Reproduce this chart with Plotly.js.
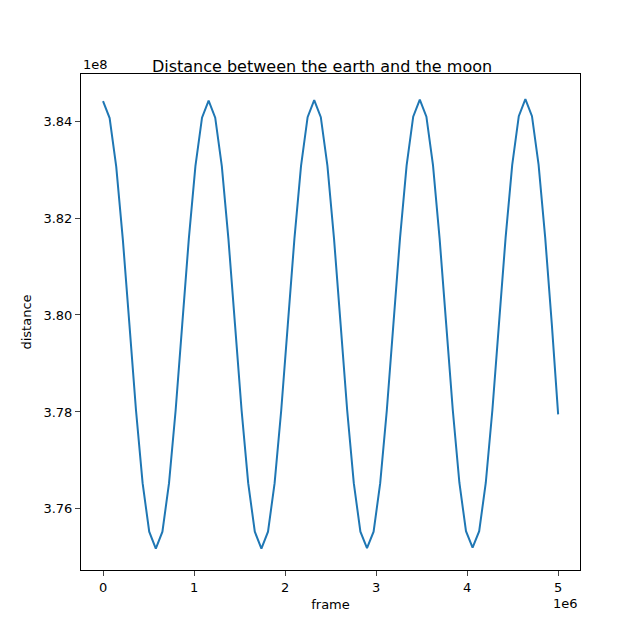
<!DOCTYPE html>
<html><head><meta charset="utf-8">
<script src="https://cdn.plot.ly/plotly-3.0.1.min.js"></script>
<style>body{margin:0}</style></head><body>
<div id="c" style="width:644px;height:641px"></div>
<script>
// frame in units of 1e6
var frame = [0,0.0725,0.145,0.2175,0.29,0.3625,0.435,0.5075,0.58,0.6525,0.725,0.7975,0.87,0.9425,1.015,1.0875,
1.16,1.2325,1.305,1.3775,1.45,1.5225,1.595,1.6675,1.74,1.8125,1.885,1.9575,2.03,2.1025,2.175,2.2475,
2.32,2.3925,2.465,2.5375,2.61,2.6825,2.755,2.8275,2.9,2.9725,3.045,3.1175,3.19,3.2625,3.335,3.4075,
3.48,3.5525,3.625,3.6975,3.77,3.8425,3.915,3.9875,4.06,4.1325,4.205,4.2775,4.35,4.4225,4.495,4.5675,
4.64,4.7125,4.785,4.8575,4.93,5.0];
// distance in units of 1e8
var distance = [3.8441,3.8406,3.8306,3.8156,3.7980,3.7803,3.7653,3.7553,3.7518,3.7553,3.7653,3.7803,3.7980,3.8157,3.8307,3.8407,
3.8442,3.8407,3.8307,3.8157,3.7980,3.7803,3.7653,3.7553,3.7518,3.7553,3.7653,3.7803,3.7980,3.8157,3.8307,3.8408,
3.8443,3.8408,3.8308,3.8158,3.7981,3.7803,3.7653,3.7553,3.7519,3.7553,3.7653,3.7803,3.7981,3.8158,3.8308,3.8409,
3.8444,3.8409,3.8309,3.8158,3.7981,3.7804,3.7654,3.7554,3.7520,3.7554,3.7654,3.7804,3.7982,3.8159,3.8309,3.8410,
3.8445,3.8410,3.8310,3.8160,3.7982,3.7795];
var f = {family:"DejaVu Sans", size:13, color:"#000"};
Plotly.newPlot("c",[{x:frame,y:distance,type:"scatter",mode:"lines",line:{color:"#1f77b4",width:2,shape:"linear"}}],{
  width:644,height:641,margin:{l:81,r:64,t:74,b:71},
  paper_bgcolor:"#fff",plot_bgcolor:"#fff",font:f,showlegend:false,
  title:{text:"Distance between the earth and the moon",font:{family:"DejaVu Sans",size:16,color:"#000"},x:0.5,xanchor:"center",yref:"paper",y:1,yanchor:"bottom",pad:{b:2}},
  xaxis:{range:[-0.242,5.24],tickvals:[0,1,2,3,4,5],ticktext:["0","1","2","3","4","5"],ticks:"outside",ticklen:5,showline:true,mirror:true,linecolor:"#000",showgrid:false,zeroline:false,
    title:{text:"frame",font:f,standoff:6}},
  yaxis:{range:[3.7474,3.8497],tickvals:[3.76,3.78,3.80,3.82,3.84],ticktext:["3.76","3.78","3.80","3.82","3.84"],ticks:"outside",ticklen:5,showline:true,mirror:true,linecolor:"#000",showgrid:false,zeroline:false,
    title:{text:"distance",font:f,standoff:8}},
  annotations:[
    {text:"1e8",xref:"paper",yref:"paper",x:0,y:1,xanchor:"left",yanchor:"bottom",showarrow:false,font:f},
    {text:"1e6",xref:"paper",yref:"paper",x:1,y:0,xanchor:"right",yanchor:"top",showarrow:false,font:f,yshift:-24}
  ]
},{displayModeBar:false});
</script></body></html>
